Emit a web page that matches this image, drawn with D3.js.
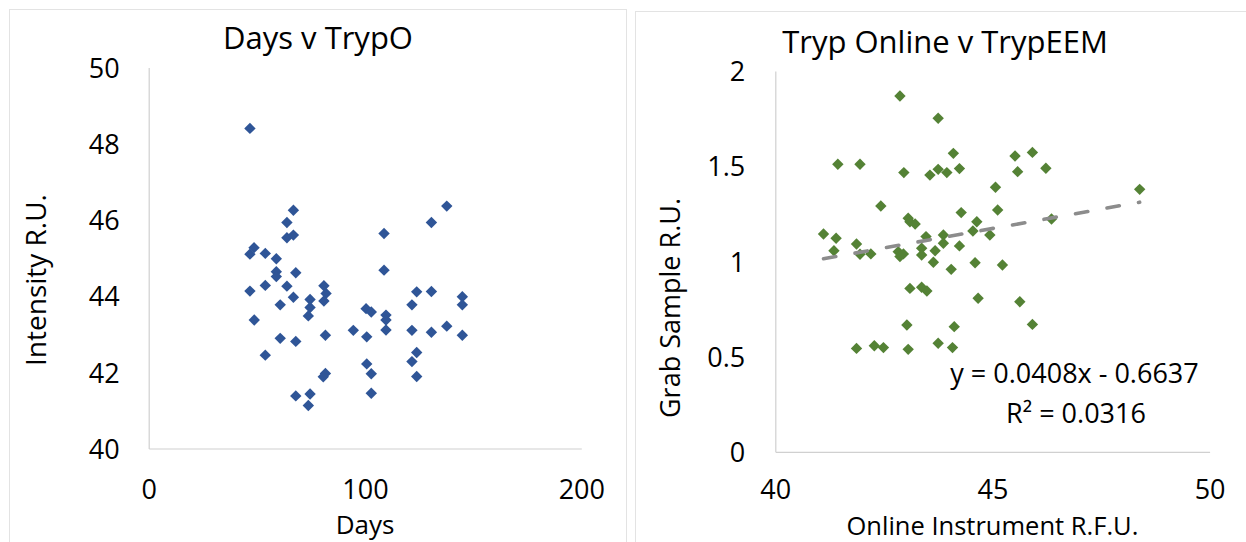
<!DOCTYPE html>
<html><head><meta charset="utf-8">
<script src="https://cdn.jsdelivr.net/npm/d3@7"></script>
<style>
html,body{margin:0;padding:0;background:#fff;}
svg{display:block;}
text{font-family:"Open Sans","Noto Sans",sans-serif;fill:#000;}
</style></head>
<body>
<svg id="c" width="1246" height="542"></svg>
<script>
// ---- Data: Days v TrypO ----
const daysX = [46.8,66.9,137.8,63.9,130.7,108.8,63.9,66.9,46.8,48.7,53.9,59.0,59.0,59.0,68.0,108.8,46.8,53.9,63.9,81.0,82.0,81.0,66.9,60.8,74.6,74.6,73.8,123.9,130.7,121.7,145.0,145.0,100.5,102.9,109.7,109.7,109.7,48.8,94.6,100.8,121.7,130.7,137.8,145.0,81.7,60.8,68.0,53.9,123.9,121.7,100.8,102.9,123.9,81.7,80.7,102.9,68.0,74.6,73.8];
const trypO = [48.40,46.25,46.36,45.93,45.93,45.64,45.53,45.60,45.10,45.27,45.12,44.98,44.64,44.51,44.61,44.68,44.13,44.28,44.26,44.27,44.07,43.87,43.97,43.77,43.91,43.70,43.48,44.11,44.12,43.77,43.98,43.77,43.67,43.58,43.50,43.37,43.11,43.37,43.10,42.93,43.10,43.05,43.21,42.97,42.97,42.89,42.81,42.45,42.52,42.28,42.22,41.96,41.89,41.97,41.88,41.45,41.38,41.43,41.13];
const daysXTicks = [0,100,200];
const trypOTicks = [40,42,44,46,48,50];

// ---- Data: Tryp Online v TrypEEM ----
const onlineX = [42.87,43.75,41.44,41.95,44.10,45.52,45.92,42.96,43.56,43.75,43.95,44.24,45.58,46.23,45.07,45.12,42.43,44.28,46.36,43.06,43.10,43.22,44.64,44.55,44.94,43.87,43.47,43.87,44.24,41.11,41.40,41.35,41.87,41.95,42.20,42.83,42.95,42.87,43.37,43.37,43.68,43.64,44.05,44.60,45.23,43.10,43.37,43.49,44.67,45.63,43.03,44.12,45.92,41.87,42.28,42.49,43.06,43.75,44.08,48.39];
const grabY = [1.868,1.751,1.510,1.510,1.567,1.553,1.572,1.466,1.453,1.483,1.466,1.487,1.471,1.489,1.389,1.270,1.291,1.256,1.222,1.226,1.208,1.196,1.208,1.159,1.138,1.138,1.130,1.095,1.081,1.144,1.121,1.056,1.091,1.037,1.039,1.051,1.039,1.025,1.069,1.033,1.056,0.995,0.958,0.993,0.981,0.858,0.864,0.844,0.806,0.788,0.666,0.657,0.669,0.543,0.557,0.547,0.538,0.570,0.547,1.378];
const onlineXTicks = [40,45,50];
const grabYTicks = [0,0.5,1,1.5,2];
const trendSlope = 0.0408, trendIntercept = -0.6637;
const trendLabel1 = "y = 0.0408x - 0.6637";
const trendLabel2 = "R² = 0.0316";

const svg = d3.select("#c");
const FS = 26;
const axisColor = "#d0d0d0";
const diamond = "M0,-5.7L5.7,0L0,5.7L-5.7,0Z";

// panel borders
svg.append("rect").attr("x",9.5).attr("y",9.5).attr("width",617).attr("height",560)
  .attr("fill","none").attr("stroke","#e3e3e3").attr("stroke-width",1);
svg.append("rect").attr("x",635.5).attr("y",11.5).attr("width",640).attr("height",560)
  .attr("fill","none").attr("stroke","#e3e3e3").attr("stroke-width",1);

function panel(o){
  const g = svg.append("g");
  const x = d3.scaleLinear().domain(o.xd).range(o.xr);
  const y = d3.scaleLinear().domain(o.yd).range(o.yr);
  const fmt = d3.format("~g");
  const ax = d3.axisBottom(x).tickValues(o.xt).tickSize(0).tickPadding(0).tickFormat(fmt);
  const ay = d3.axisLeft(y).tickValues(o.yt).tickSize(0).tickPadding(0).tickFormat(fmt);
  const gx = g.append("g").attr("transform",`translate(0,${o.yr[0]})`).call(ax);
  const gy = g.append("g").attr("transform",`translate(${o.xr[0]},0)`).call(ay);
  [gx,gy].forEach(a=>{
    a.select(".domain").attr("stroke",axisColor).attr("stroke-width",1.2);
    a.selectAll("text").attr("font-size",FS+1).attr("fill","#000").attr("font-family",null);
  });
  gx.selectAll("text").attr("dy",null).attr("y",o.xLabelDy);
  gy.selectAll("text").attr("dy","0.36em").attr("x",-o.yLabelDx);
  g.selectAll("path.pt").data(o.xs).join("path").attr("class","pt")
    .attr("d",diamond).attr("fill",o.color)
    .attr("transform",(d,i)=>`translate(${x(d)},${y(o.ys[i])})`);
  g.append("text").attr("x",o.titleX).attr("y",o.titleY).attr("text-anchor","middle")
    .attr("font-size",o.titleFS).text(o.title);
  g.append("text").attr("x",(o.xr[0]+o.xr[1])/2).attr("y",o.xTitleY).attr("text-anchor","middle")
    .attr("font-size",o.xTitleFS).text(o.xTitle);
  g.append("text").attr("transform",`translate(${o.yTitleX},${o.yTitleY}) rotate(-90)`)
    .attr("text-anchor","middle").attr("font-size",o.yTitleFS).text(o.yTitle);
  return {g,x,y};
}

panel({xd:[0,200], xr:[148.7,581.3], yd:[40,50], yr:[448.5,67.4],
  xt:daysXTicks, yt:trypOTicks, xs:daysX, ys:trypO, color:"#2f5597",
  title:"Days v TrypO", titleX:318, titleY:49, titleFS:31,
  xTitle:"Days", xTitleY:534, xTitleFS:26, yTitle:"Intensity R.U.", yTitleX:46, yTitleY:280, yTitleFS:28,
  xLabelDy:50, yLabelDx:29});

const p2 = panel({xd:[40,50], xr:[775.3,1209.6], yd:[0,2], yr:[451.8,70.9],
  xt:onlineXTicks, yt:grabYTicks, xs:onlineX, ys:grabY, color:"#548235",
  title:"Tryp Online v TrypEEM", titleX:945, titleY:53, titleFS:31,
  xTitle:"Online Instrument R.F.U.", xTitleY:534.5, xTitleFS:25.5, yTitle:"Grab Sample R.U.", yTitleX:680, yTitleY:308, yTitleFS:27,
  xLabelDy:47.5, yLabelDx:30});

// trend line
const tx = d3.extent(onlineX);
p2.g.append("line")
  .attr("x1",p2.x(tx[0])).attr("y1",p2.y(trendSlope*tx[0]+trendIntercept))
  .attr("x2",p2.x(tx[1])).attr("y2",p2.y(trendSlope*tx[1]+trendIntercept))
  .attr("stroke","#8c8c8c").attr("stroke-width",3.6).attr("stroke-linecap","round")
  .attr("stroke-dasharray","12.5,19.5");
p2.g.append("text").attr("x",1074.5).attr("y",383).attr("text-anchor","middle")
  .attr("font-size",27).text(trendLabel1);
p2.g.append("text").attr("x",1076).attr("y",423).attr("text-anchor","middle")
  .attr("font-size",27).text(trendLabel2);
</script>
</body></html>
